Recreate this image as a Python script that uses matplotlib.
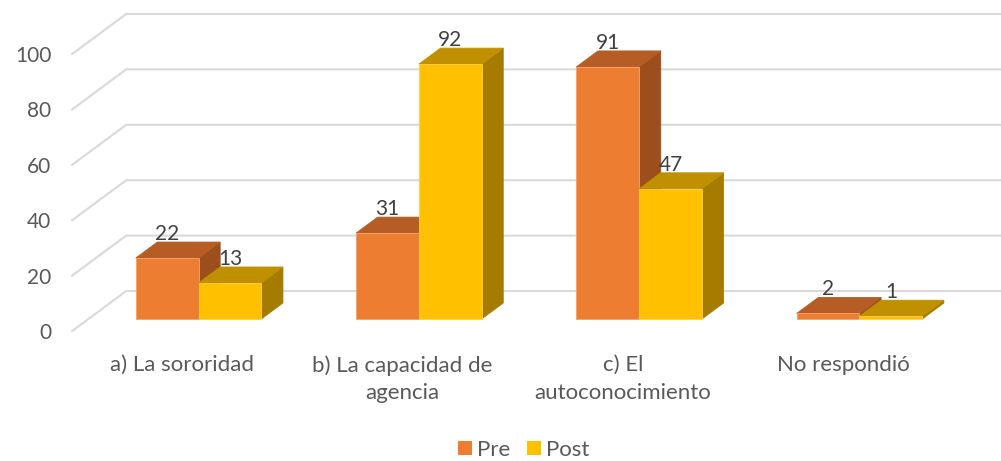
import matplotlib
matplotlib.use("Agg")
import matplotlib.pyplot as plt
from matplotlib.patches import Patch, Polygon

plt.rcParams["font.family"] = ["Lato", "DejaVu Sans"]

categories = ["a) La sororidad", "b) La capacidad de\nagencia", "c) El\nautoconocimiento", "No respondió"]
pre_values = [22, 31, 91, 2]
post_values = [13, 92, 47, 1]
y_ticks = [0, 20, 40, 60, 80, 100]

WIDTH, HEIGHT = 1001, 461
BAR_WIDTH = 0.285
ORANGE = {"front": "#ED7D31", "top": "#B55D25", "side": "#9C4F1D", "edge": "#F3A26E"}
YELLOW = {"front": "#FFC000", "top": "#C09000", "side": "#A67C00", "edge": "#FFCF4D"}

fig = plt.figure(figsize=(WIDTH / 100, HEIGHT / 100), dpi=100)
ax = fig.add_axes([72.2 / WIDTH, 1 - 331 / HEIGHT, 881.2 / WIDTH, 277 / HEIGHT])
ax.set_xlim(-0.5, 3.5)
ax.set_ylim(0, 100)

# how far the back wall sits from the front plane, in data units
depth_x = 54 / (881.2 / 4)
depth_y = 40 / (277 / 100)


def project(x, y, d):
    return x + d * depth_x, y + d * depth_y


def draw_bar(x_left, value, colors):
    x_right = x_left + BAR_WIDTH
    d0, d1 = 0.3, 0.7
    faces = [
        ("side", [(x_right, 0, d0), (x_right, 0, d1), (x_right, value, d1), (x_right, value, d0)]),
        ("top", [(x_left, value, d0), (x_right, value, d0), (x_right, value, d1), (x_left, value, d1)]),
        ("front", [(x_left, 0, d0), (x_right, 0, d0), (x_right, value, d0), (x_left, value, d0)]),
    ]
    for name, corners in faces:
        edge = colors["edge"] if name == "front" else colors[name]
        ax.add_patch(Polygon([project(*c) for c in corners], facecolor=colors[name],
                             edgecolor=edge, linewidth=0.6, zorder=3, clip_on=False))
    x_label, y_label = project(x_left + BAR_WIDTH / 2, value, d0)
    ax.annotate(str(value), (x_label, y_label), xytext=(0, 17.5), textcoords="offset points",
                ha="center", va="center", fontsize=15, color="#404040", zorder=5,
                annotation_clip=False)


# gridlines: side wall then back wall
for tick in y_ticks:
    x0, y0 = project(-0.5, tick, 0)
    x1, y1 = project(-0.5, tick, 1)
    x2, y2 = project(3.5, tick, 1)
    ax.plot([x0, x1, x2], [y0, y1, y2], color="#D9D9D9", linewidth=1.5, zorder=1,
            clip_on=False, solid_joinstyle="miter")

for i in range(len(categories)):
    draw_bar(i - BAR_WIDTH, pre_values[i], ORANGE)
    draw_bar(i, post_values[i], YELLOW)

for spine in ax.spines.values():
    spine.set_visible(False)
ax.set_yticks(y_ticks)
ax.set_xticks(range(len(categories)))
ax.set_xticklabels(categories, linespacing=1.45)
ax.tick_params(axis="y", length=0, pad=15, labelsize=15, labelcolor="#595959")
ax.tick_params(axis="x", length=0, pad=17.5, labelsize=16, labelcolor="#595959")

handles = [Patch(facecolor=ORANGE["front"], label="Pre"), Patch(facecolor=YELLOW["front"], label="Post")]
fig.legend(handles=handles, loc="center", bbox_to_anchor=(524 / WIDTH, 1 - 450 / HEIGHT), ncol=2,
           frameon=False, fontsize=16, labelcolor="#595959", handlelength=0.6, handleheight=0.6,
           handletextpad=0.25, columnspacing=0.75, borderpad=0)

fig.savefig("out.png", dpi=100)
